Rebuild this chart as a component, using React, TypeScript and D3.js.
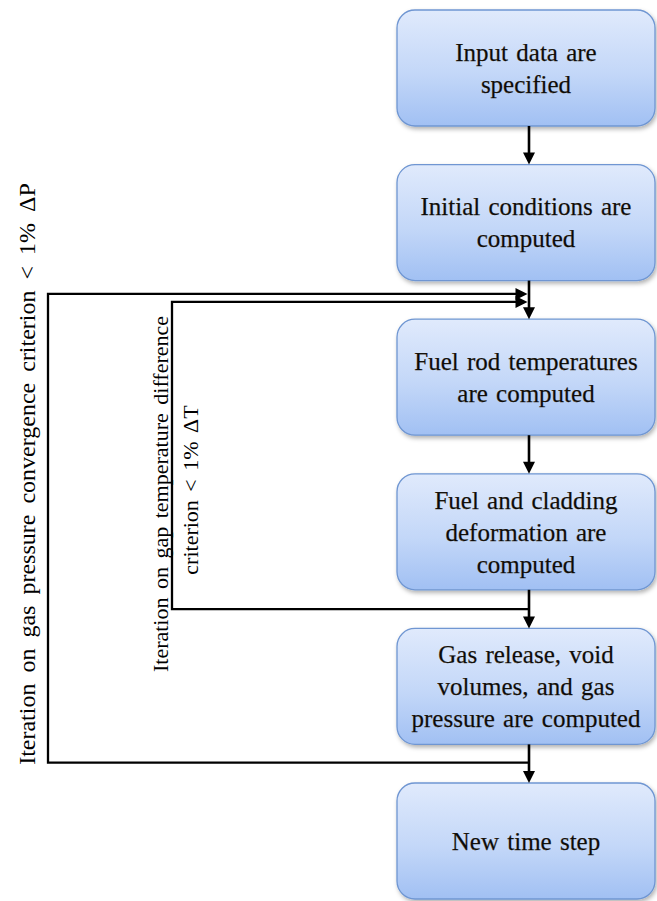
import React from "react";
import * as d3 from "d3";

const steps: string[][] = [
  ["Input data are", "specified"],
  ["Initial conditions are", "computed"],
  ["Fuel rod temperatures", "are computed"],
  ["Fuel and cladding", "deformation are", "computed"],
  ["Gas release, void", "volumes, and gas", "pressure are computed"],
  ["New time step"],
];

// feedback loops: from gap after step `fromGap` back to gap after step `toGap`
const loopFrom = [4, 3];
const loopTo = [1, 1];
const loopLabels: string[][] = [
  ["Iteration on gas pressure convergence criterion < 1% ΔP"],
  ["Iteration on gap temperature difference", "criterion < 1% ΔT"],
];

const W = 657;
const H = 901;

export default function App() {
  const boxH = 116;
  const boxX0 = 397;
  const boxX1 = 655;
  const cx = 529;
  const y = d3.scaleLinear().domain([0, steps.length - 1]).range([10, 783]);
  const gapMid = (i: number) => (y(i) + boxH + y(i + 1)) / 2;

  const loopX = [48, 172];
  const loopEntryOffset = [-6, 2];
  const loopExitOffset = [-1, 0];
  const labelX = [[27], [160, 190]];
  const labelY = [[474], [494, 490]];
  const labelSize = [24, 22];
  const labelWordSpacing = [5, 3];

  const arrowPath = (x: number, yy: number, dir: "down" | "right") => {
    const L = 12, w = 6;
    if (dir === "down") return `M${x - w},${yy - L}L${x + w},${yy - L}L${x},${yy}Z`;
    return `M${x - L},${yy - w}L${x - L},${yy + w}L${x},${yy}Z`;
  };

  return (
    <svg width={W} height={H} style={{ position: "absolute", left: 0, top: 0, background: "#fff" }}>
      <defs>
        <linearGradient id="boxGrad" x1="0" y1="0" x2="0" y2="1">
          <stop offset="0%" stopColor="#e0eafc" />
          <stop offset="55%" stopColor="#c3d7f8" />
          <stop offset="100%" stopColor="#a1c0f3" />
        </linearGradient>
        <filter id="shadow" x="-10%" y="-10%" width="120%" height="130%">
          <feDropShadow dx="1.5" dy="2.5" stdDeviation="2" floodColor="#000" floodOpacity="0.3" />
        </filter>
      </defs>

      {steps.map((lines, i) => {
        const top = y(i);
        const midY = top + boxH / 2;
        const lh = 32;
        return (
          <g key={i}>
            <rect
              x={boxX0}
              y={top}
              width={boxX1 - boxX0}
              height={boxH}
              rx={18}
              ry={18}
              fill="url(#boxGrad)"
              stroke="#6f96d2"
              strokeWidth={1.3}
              filter="url(#shadow)"
            />
            <text
              fontFamily="'Liberation Serif', 'Times New Roman', serif"
              fontSize={25}
              fill="#0a0a0a"
              stroke="#3a2a10"
              strokeWidth={0.25}
              textAnchor="middle"
              style={{ wordSpacing: "2px" }}
            >
              {lines.map((t, j) => (
                <tspan key={j} x={(boxX0 + boxX1) / 2} y={midY + (j - (lines.length - 1) / 2) * lh} dy="0.35em">
                  {t}
                </tspan>
              ))}
            </text>
          </g>
        );
      })}

      {steps.slice(0, -1).map((_, i) => {
        const y0 = y(i) + boxH;
        const y1 = y(i + 1);
        return (
          <g key={"a" + i}>
            <line x1={cx} x2={cx} y1={y0} y2={y1 - 10} stroke="#000" strokeWidth={2.6} />
            <path d={arrowPath(cx, y1, "down")} fill="#000" />
          </g>
        );
      })}

      {loopFrom.map((f, k) => {
        const yb = gapMid(f) + loopExitOffset[k];
        const yt = gapMid(loopTo[k]) + loopEntryOffset[k];
        const lx = loopX[k];
        const tipX = cx - 1.5;
        return (
          <g key={"l" + k}>
            <path
              d={`M${cx},${yb}H${lx}V${yt}H${tipX - 10}`}
              fill="none"
              stroke="#000"
              strokeWidth={2.3}
            />
            <path d={arrowPath(tipX, yt, "right")} fill="#000" />
            {loopLabels[k].map((t, j) => (
              <text
                key={j}
                transform={`translate(${labelX[k][j]},${labelY[k][j]}) rotate(-90)`}
                textAnchor="middle"
                dy="0.35em"
                fontFamily="'Liberation Serif', 'Times New Roman', serif"
                fontSize={labelSize[k]}
                fill="#000"
                style={{ wordSpacing: `${labelWordSpacing[k]}px` }}
              >
                {t}
              </text>
            ))}
          </g>
        );
      })}
    </svg>
  );
}
